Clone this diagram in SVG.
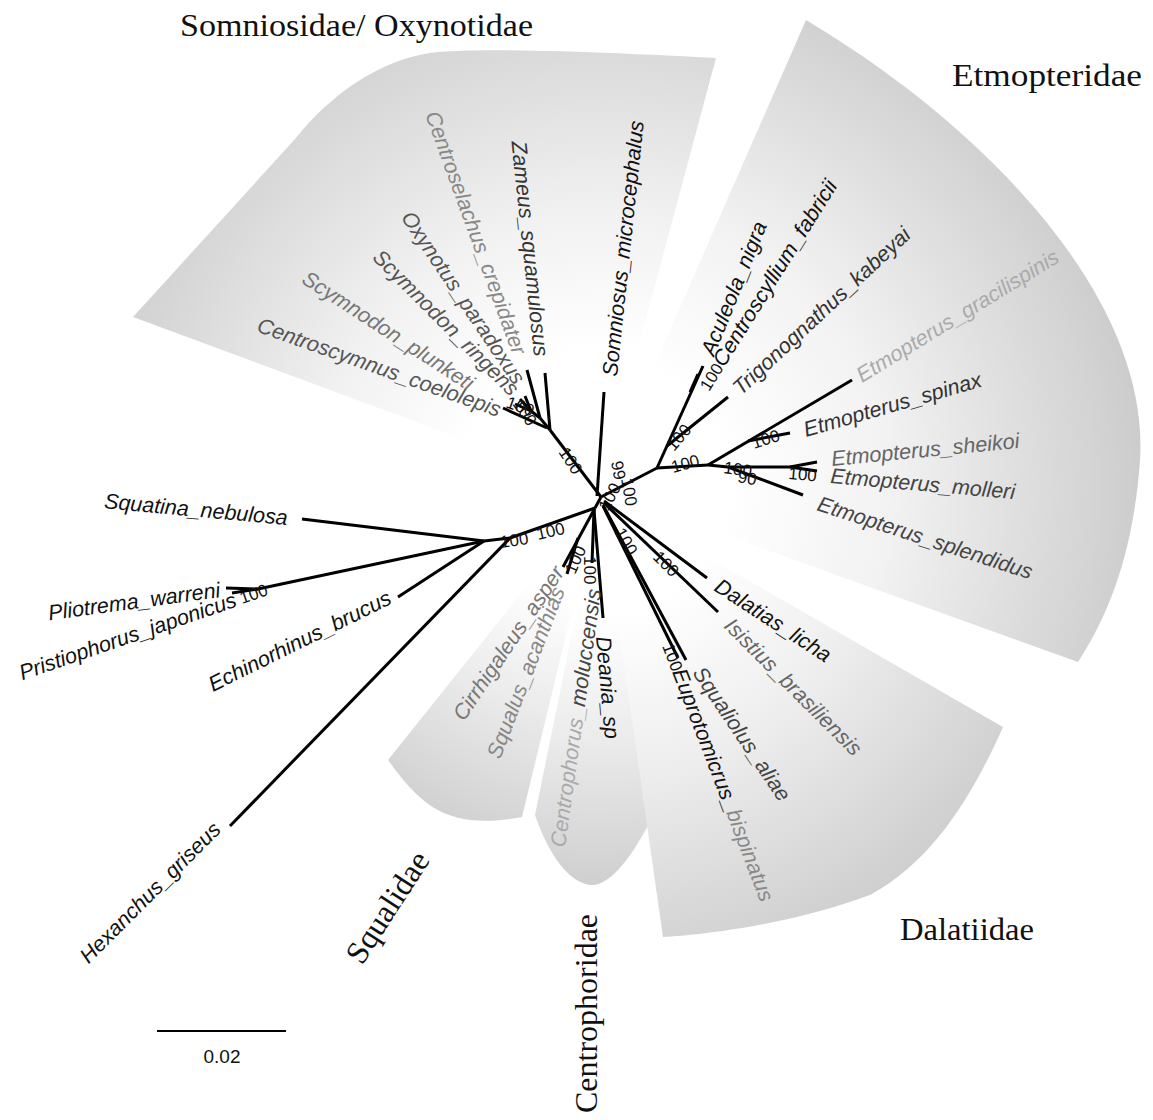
<svg xmlns="http://www.w3.org/2000/svg" width="1153" height="1120" viewBox="0 0 1153 1120">
<style>
.t{font-family:"Liberation Sans",Arial,sans-serif;font-style:italic;font-size:21.5px;fill:#111}
.b{font-family:"Liberation Sans",Arial,sans-serif;font-size:17px;fill:#111}
.f{font-family:"Liberation Serif","Times New Roman",serif;font-size:32px;fill:#111}
.br{stroke:#000;stroke-width:3;fill:none;stroke-linecap:butt}
.g3{fill:#333}.g4{fill:#444}.g5{fill:#555}.g6{fill:#666}.g7{fill:#777}.g8{fill:#888}.ga{fill:#aaa}
</style>
<defs>
<radialGradient id="gSom" gradientUnits="userSpaceOnUse" cx="600" cy="490" r="560">
<stop offset="0.25" stop-color="#fff"/><stop offset="0.5" stop-color="#f1f1f1"/><stop offset="0.85" stop-color="#d5d5d5"/><stop offset="1" stop-color="#cbcbcb"/>
</radialGradient>
<radialGradient id="gEtm" gradientUnits="userSpaceOnUse" cx="600" cy="490" r="580">
<stop offset="0.22" stop-color="#fff"/><stop offset="0.5" stop-color="#f2f2f2"/><stop offset="0.85" stop-color="#d4d4d4"/><stop offset="1" stop-color="#c6c6c6"/>
</radialGradient>
<radialGradient id="gSqu" gradientUnits="userSpaceOnUse" cx="600" cy="490" r="380">
<stop offset="0.3" stop-color="#fff"/><stop offset="0.6" stop-color="#ebebeb"/><stop offset="1" stop-color="#cdcdcd"/>
</radialGradient>
<radialGradient id="gCen" gradientUnits="userSpaceOnUse" cx="600" cy="490" r="420">
<stop offset="0.3" stop-color="#fff"/><stop offset="0.6" stop-color="#ebebeb"/><stop offset="1" stop-color="#cacaca"/>
</radialGradient>
<radialGradient id="gDal" gradientUnits="userSpaceOnUse" cx="600" cy="490" r="500">
<stop offset="0.25" stop-color="#fff"/><stop offset="0.55" stop-color="#efefef"/><stop offset="1" stop-color="#cdcdcd"/>
</radialGradient>
</defs>
<rect width="1153" height="1120" fill="#fff"/>
<g id="clades">
<path id="shade-somniosidae" d="M600,490 L716,58 C640,54 480,46 430,53 C380,60 330,95 296,138 L133,317 Z" fill="url(#gSom)"/>
<path id="shade-etmopteridae" d="M600,490 L806,20 C990,130 1150,300 1140,460 C1133,560 1105,620 1078,662 Z" fill="url(#gEtm)"/>
<path id="shade-squalidae" d="M600,495 L388,760 C410,790 430,815 470,820 C490,822 505,820 522,817 Z" fill="url(#gSqu)"/>
<path id="shade-centrophoridae" d="M600,495 L535,815 C545,845 565,882 590,885 C612,887 635,850 650,822 Z" fill="url(#gCen)"/>
<path id="shade-dalatiidae" d="M600,495 L663,937 C700,935 790,925 870,895 C935,860 975,790 1003,727 Z" fill="url(#gDal)"/>
</g>
<g id="connectors" class="br">
<path d="M601,497 L550,430"/>
<path d="M597,496 L604,392"/>
<path d="M601,497 L657,468"/>
<path d="M601,497 L595,508"/>
<path d="M550,430 L545,373"/>
<path d="M550,430 L540,418"/>
<path d="M540,418 L527,370"/>
<path d="M540,418 L531,411"/>
<path d="M531,411 L525,396"/>
<path d="M531,411 L520,399"/>
<path d="M531,411 L515,404"/>
<path d="M547,428 L503,408"/>
<path d="M657,468 L703,366"/>
<path d="M690,392 L698,374"/>
<path d="M667,446 L728,397"/>
<path d="M657,468 L708,465"/>
<path d="M708,465 L852,380"/>
<path d="M748,441 L790,433"/>
<path d="M708,465 L728,467"/>
<path d="M728,467 L803,495"/>
<path d="M728,467 L790,467"/>
<path d="M790,467 L817,462"/>
<path d="M790,467 L817,471"/>
<path d="M604,501 L707,578"/>
<path d="M604,503 L718,612"/>
<path d="M603,505 L686,660"/>
<path d="M603,506 L678,658"/>
<path d="M594,510 L603,618"/>
<path d="M594,510 L592,563"/>
<path d="M595,508 L563,567"/>
<path d="M578,538 L567,574"/>
<path d="M595,508 L510,538"/>
<path d="M510,538 L230,826"/>
<path d="M510,538 L484,541"/>
<path d="M484,541 L302,519"/>
<path d="M484,541 L398,597"/>
<path d="M484,541 L258,589"/>
<path d="M258,589 L226,588"/>
<path d="M258,589 L232,593"/>
</g>
<g id="support">
<text class="b" transform="translate(558,452) rotate(57)">100</text>
<text class="b" transform="translate(505,407) rotate(20)">100</text>
<text class="b" transform="translate(512,404) rotate(55)">100</text>
<text class="b" transform="translate(611,462) rotate(80)">99</text>
<text class="b" transform="translate(621,479) rotate(80)">100</text>
<text class="b" transform="translate(608,512) rotate(-62)">100</text>
<text class="b" transform="translate(673,473) rotate(-15)">100</text>
<text class="b" transform="translate(674,452) rotate(-50)">100</text>
<text class="b" transform="translate(709,392) rotate(-58)">100</text>
<text class="b" transform="translate(754,449) rotate(-18)">100</text>
<text class="b" transform="translate(723,473) rotate(8)">100</text>
<text class="b" transform="translate(737,482) rotate(10)">90</text>
<text class="b" transform="translate(788,479) rotate(5)">100</text>
<text class="b" transform="translate(614,532) rotate(60)">100</text>
<text class="b" transform="translate(652,558) rotate(45)">100</text>
<text class="b" transform="translate(662,646) rotate(69)">100</text>
<text class="b" transform="translate(584,556) rotate(90)">100</text>
<text class="b" transform="translate(575,575) rotate(-66)">100</text>
<text class="b" transform="translate(538,540) rotate(-13)">100</text>
<text class="b" transform="translate(501,548) rotate(-8)">100</text>
<text class="b" transform="translate(242,604) rotate(-19)">100</text>
</g>
<g id="Centroscymnus_coelolepis"><text class="t g5" text-anchor="end" transform="translate(498,417) rotate(19.5)">Centroscymnus_coelolepis</text></g>
<g id="Scymnodon_plunketi"><text class="t g7" text-anchor="end" transform="translate(468,391) rotate(33)">Scymnodon_plunketi</text></g>
<g id="Scymnodon_ringens"><text class="t g5" text-anchor="end" transform="translate(510,397) rotate(45)">Scymnodon_ringens</text></g>
<g id="Oxynotus_paradoxus"><text class="t g5" text-anchor="end" transform="translate(514,386) rotate(56)">Oxynotus_paradoxus</text></g>
<g id="Centroselachus_crepidater"><text class="t g8" text-anchor="end" transform="translate(513,356) rotate(70)">Centroselachus_crepidater</text></g>
<g id="Zameus_squamulosus"><text class="t g3" text-anchor="end" transform="translate(534,357) rotate(84)">Zameus_squamulosus</text></g>
<g id="Somniosus_microcephalus"><text class="t" transform="translate(617,377) rotate(-84)">Somniosus_microcephalus</text></g>
<g id="Aculeola_nigra"><text class="t" transform="translate(714,357) rotate(-68)">Aculeola_nigra</text></g>
<g id="Centroscyllium_fabricii"><text class="t" transform="translate(724,368) rotate(-58)">Centroscyllium_fabricii</text></g>
<g id="Trigonognathus_kabeyai"><text class="t g3" transform="translate(741,396) rotate(-43)">Trigonognathus_kabeyai</text></g>
<g id="Etmopterus_gracilispinis"><text class="t ga" transform="translate(862,383) rotate(-31.5)">Etmopterus_gracilispinis</text></g>
<g id="Etmopterus_spinax"><text class="t g3" transform="translate(806,437) rotate(-16)">Etmopterus_spinax</text></g>
<g id="Etmopterus_sheikoi"><text class="t g6" transform="translate(832,466) rotate(-5.5)">Etmopterus_sheikoi</text></g>
<g id="Etmopterus_molleri"><text class="t g4" transform="translate(830,483) rotate(5)">Etmopterus_molleri</text></g>
<g id="Etmopterus_splendidus"><text class="t g4" transform="translate(816,510) rotate(18)">Etmopterus_splendidus</text></g>
<g id="Dalatias_licha"><text class="t" transform="translate(713,590) rotate(33)">Dalatias_licha</text></g>
<g id="Isistius_brasiliensis"><text class="t g6" transform="translate(723,627) rotate(45)">Isistius_brasiliensis</text></g>
<g id="Squaliolus_aliae"><text class="t g4" transform="translate(692,673) rotate(56)">Squaliolus_aliae</text></g>
<g id="Euprotomicrus_bispinatus"><text class="t" transform="translate(672,672) rotate(69)">Euprotomicrus_<tspan class="g8">bispinatus</tspan></text></g>
<g id="Deania_sp"><text class="t" transform="translate(596,637) rotate(85)">Deania_sp</text></g>
<g id="Centrophorus_moluccensis"><text class="t ga" transform="translate(565,848) rotate(-82)">Centrophorus_<tspan class="g4">moluccensis</tspan></text></g>
<g id="Cirrhigaleus_asper"><text class="t g7" transform="translate(464,722) rotate(-56)">Cirrhigaleus_asper</text></g>
<g id="Squalus_acanthias"><text class="t g8" transform="translate(500,760) rotate(-69)">Squalus_acanthias</text></g>
<g id="Squatina_nebulosa"><text class="t" text-anchor="end" transform="translate(287,525) rotate(5.2)">Squatina_nebulosa</text></g>
<g id="Pliotrema_warreni"><text class="t" text-anchor="end" transform="translate(221,597) rotate(-7.7)">Pliotrema_warreni</text></g>
<g id="Pristiophorus_japonicus"><text class="t" text-anchor="end" transform="translate(238,606) rotate(-19)">Pristiophorus_japonicus</text></g>
<g id="Echinorhinus_brucus"><text class="t" text-anchor="end" transform="translate(393,603) rotate(-26.3)">Echinorhinus_brucus</text></g>
<g id="Hexanchus_griseus"><text class="t" text-anchor="end" transform="translate(222,831) rotate(-45)">Hexanchus_griseus</text></g>
<g id="families">
<text class="f" x="180" y="36" textLength="353" lengthAdjust="spacingAndGlyphs">Somniosidae/ Oxynotidae</text>
<text class="f" x="952" y="86" textLength="190" lengthAdjust="spacingAndGlyphs">Etmopteridae</text>
<text class="f" x="900" y="940" textLength="134" lengthAdjust="spacingAndGlyphs">Dalatiidae</text>
<text class="f" font-size="33" transform="translate(362,966) rotate(-57)">Squalidae</text>
<text class="f" transform="translate(597,1113) rotate(-90)">Centrophoridae</text>
</g>
<g id="scale">
<path d="M157,1031 L286,1031" stroke="#000" stroke-width="2"/>
<text x="222" y="1063" text-anchor="middle" style="font-family:'Liberation Sans',Arial,sans-serif;font-size:19px;fill:#111">0.02</text>
</g>
</svg>
